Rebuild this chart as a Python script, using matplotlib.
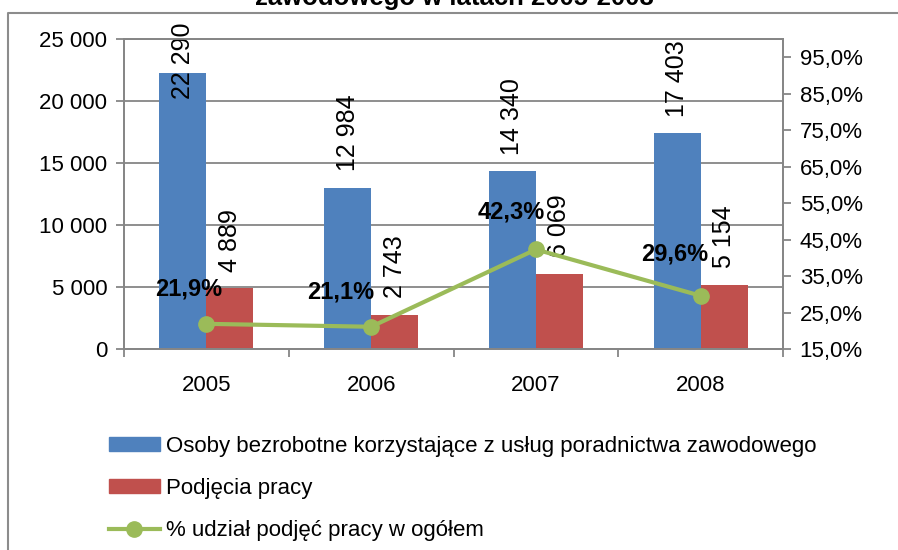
#!/usr/bin/env python3
"""Osoby bezrobotne i podjęcia pracy 2005-2008: słupki + linia udziału."""
import matplotlib

matplotlib.use("Agg")
import matplotlib.pyplot as plt
from matplotlib.lines import Line2D
from matplotlib.patches import Patch
from matplotlib.ticker import FuncFormatter

plt.rcParams["font.family"] = ["Liberation Sans", "DejaVu Sans"]

years = ["2005", "2006", "2007", "2008"]
bezrobotni = [22290, 12984, 14340, 17403]
podjecia = [4889, 2743, 6069, 5154]
udzial = [0.219, 0.211, 0.423, 0.296]

series_names = [
    "Osoby bezrobotne korzystające z usług poradnictwa zawodowego",
    "Podjęcia pracy",
    "% udział podjęć pracy w ogółem",
]
title = "zawodowego w latach 2005-2008"

BLUE = "#4F81BD"
RED = "#C0504D"
GREEN = "#9BBB59"
GRID = "#868686"

W, H = 898, 550
fig = plt.figure(figsize=(W / 100, H / 100), dpi=100)

# obramowanie obszaru wykresu (góra i lewa krawędź, reszta poza obrazem)
fig.add_artist(Line2D([8 / W, 8 / W, 1.0], [0.0, 1 - 13 / H, 1 - 13 / H],
                      transform=fig.transFigure, color="#8c8c8c", lw=1.5))
fig.text(454 / W, 1 - 5 / H, title, ha="center", va="baseline",
         fontsize=18.5, fontweight="bold")


def thousands(v):
    return f"{int(v):,}".replace(",", " ")


def percent(v):
    return f"{v * 100:.1f}%".replace(".", ",")


ax = fig.add_axes([124 / W, 1 - 349 / H, (783 - 124) / W, (349 - 39) / H])
ax2 = ax.twinx()

x = list(range(len(years)))
bw = 0.285
xb = [i - bw / 2 for i in x]
xr = [i + bw / 2 for i in x]
ax.bar(xb, bezrobotni, width=bw, color=BLUE, zorder=2)
ax.bar(xr, podjecia, width=bw, color=RED, zorder=2)

ax.set_xlim(-0.5, len(years) - 0.5)
ax.set_ylim(0, 25000)
ax.set_yticks(range(0, 25001, 5000))
ax.yaxis.set_major_formatter(FuncFormatter(lambda v, p: thousands(v)))
ax.grid(axis="y", color=GRID, lw=1.3, zorder=0)
ax.set_axisbelow(True)

ax.set_xticks([i - 0.5 for i in range(len(years) + 1)])
ax.set_xticklabels([])
ax.set_xticks(x, minor=True)
ax.set_xticklabels(years, minor=True, fontsize=16)
ax.tick_params(axis="x", which="minor", length=0, pad=19)
ax.tick_params(axis="x", which="major", length=6, color=GRID, width=1.3, direction="out")
ax.tick_params(axis="y", length=6, color=GRID, width=1.3, labelsize=16, pad=6)

for a in (ax, ax2):
    for s in ["left", "bottom", "right", "top"]:
        a.spines[s].set_color(GRID)
        a.spines[s].set_linewidth(1.3)

# etykiety słupków (pionowe, nad słupkami; najwyższa wciśnięta pod górną krawędź)
for xs, vals in ((xb, bezrobotni), (xr, podjecia)):
    for xi, v in zip(xs, vals):
        if v > 0.8 * 25000:
            ax.annotate(thousands(v), (xi, 1.0), xycoords=("data", "axes fraction"),
                        xytext=(0, 12), textcoords="offset points",
                        rotation=90, ha="center", va="top", fontsize=18)
        else:
            ax.annotate(thousands(v), (xi, v), xytext=(0, 12), textcoords="offset points",
                        rotation=90, ha="center", va="bottom", fontsize=18)

ax2.plot(x, udzial, color=GREEN, lw=3, marker="o", ms=11, zorder=3)
ax2.set_ylim(0.15, 1.0)
ax2.set_yticks([0.15 + 0.1 * i for i in range(9)])
ax2.yaxis.set_major_formatter(FuncFormatter(lambda v, p: percent(v)))
ax2.tick_params(axis="y", length=6, color=GRID, width=1.3, labelsize=16, pad=6)

pct_offsets = [(-13, 17), (-22, 17), (-18, 19), (-19, 22)]
for xi, v, off in zip(x, udzial, pct_offsets):
    ax2.annotate(percent(v), (xi, v), xytext=off, textcoords="offset points",
                 ha="center", va="bottom", fontsize=17, fontweight="bold")

handles = [
    Patch(color=BLUE),
    Patch(color=RED),
    Line2D([], [], color=GREEN, lw=3, marker="o", ms=11),
]
fig.legend(handles, series_names, loc="upper left",
           bbox_to_anchor=(100 / W, 1 - 427 / H), frameon=False,
           fontsize=16, handlelength=2.3, handleheight=0.55,
           handletextpad=0.25, labelspacing=0.95, borderaxespad=0)

fig.savefig("out.png", dpi=100)
